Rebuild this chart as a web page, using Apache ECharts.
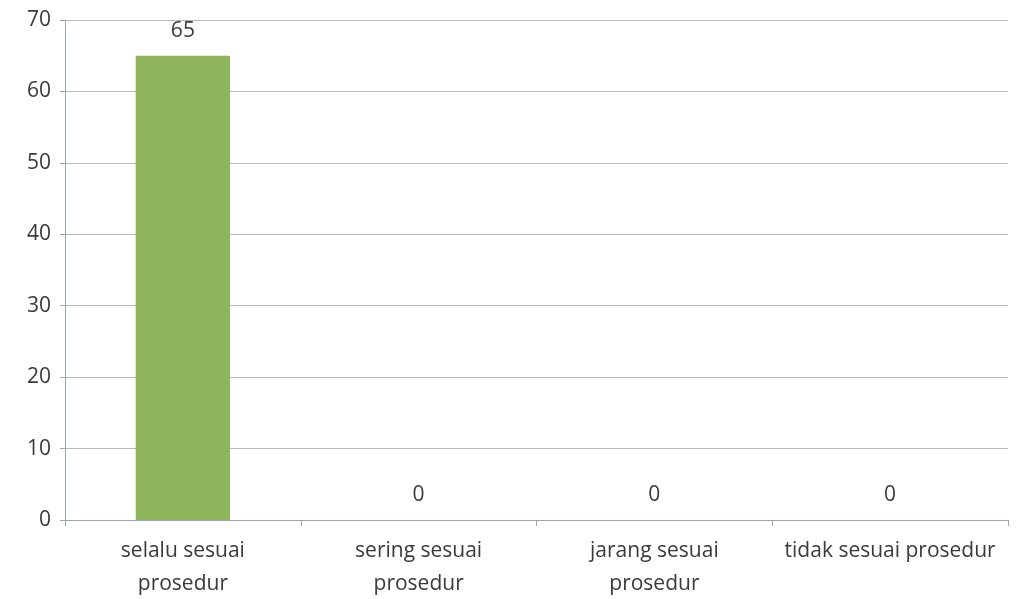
<!DOCTYPE html>
<html>
<head>
<meta charset="utf-8">
<script src="https://cdn.jsdelivr.net/npm/echarts@6/dist/echarts.min.js"></script>
<style>
  html, body { margin: 0; padding: 0; background: #ffffff; }
  #chart { width: 1019px; height: 599px; }
</style>
</head>
<body>
<div id="chart"></div>
<script>
// Categories and counts
const categories = ['selalu sesuai\nprosedur', 'sering sesuai\nprosedur', 'jarang sesuai\nprosedur', 'tidak sesuai prosedur'];
const counts = [65, 0, 0, 0];
const yTicks = { min: 0, max: 70, interval: 10 };

const chart = echarts.init(document.getElementById('chart'));
chart.setOption({
  backgroundColor: '#ffffff',
  animation: false,
  grid: { left: 65, right: 11, top: 20, bottom: 79, containLabel: false, outerBoundsMode: 'none' },
  xAxis: {
    type: 'category',
    data: categories,
    axisLine: { lineStyle: { color: '#9aa3b0', width: 1 } },
    axisTick: { show: true, alignWithLabel: false, length: 6, lineStyle: { color: '#9aa3b0' } },
    axisLabel: {
      color: '#3a3a3a', fontFamily: 'Open Sans', fontSize: 21, lineHeight: 33, margin: 15, interval: 0
    },
    splitLine: { show: false }
  },
  yAxis: {
    type: 'value',
    min: yTicks.min, max: yTicks.max, interval: yTicks.interval,
    axisLine: { show: true, lineStyle: { color: '#9aa3b0', width: 1 } },
    axisTick: { show: true, length: 5, lineStyle: { color: '#9aa3b0' } },
    axisLabel: { color: '#3a3a3a', fontFamily: 'Open Sans', fontSize: 21, margin: 14 },
    splitLine: { show: true, lineStyle: { color: '#b8b8b8', width: 1 } }
  },
  series: [{
    type: 'bar',
    data: counts,
    barWidth: '40%',
    itemStyle: { color: '#8fb55c' },
    label: {
      show: true, position: 'top', distance: 14,
      color: '#3a3a3a', fontFamily: 'Open Sans', fontSize: 21
    }
  }]
});
</script>
</body>
</html>
